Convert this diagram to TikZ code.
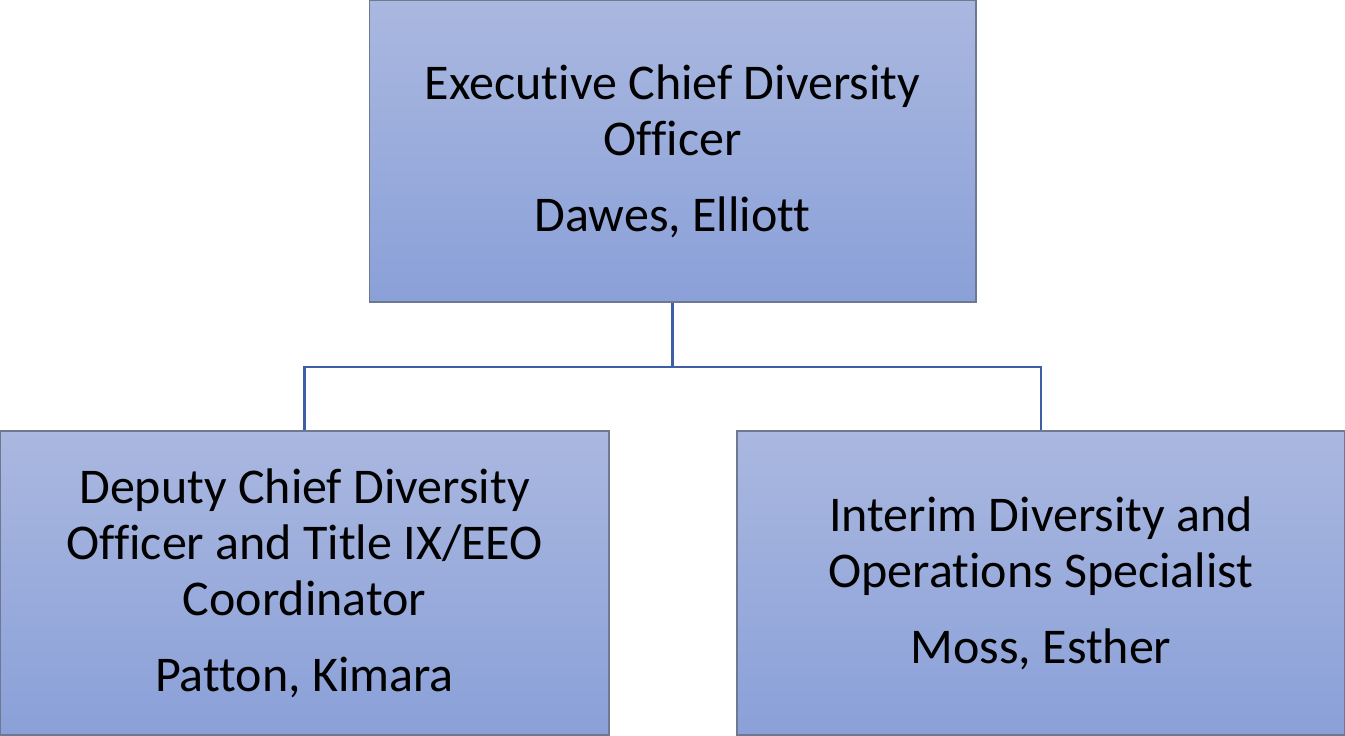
\documentclass[tikz,border=0pt]{standalone}
\usepackage{fontspec}
\setmainfont{Carlito}[Ligatures={NoCommon,NoRequired,NoContextual}]
\definecolor{ctop}{HTML}{AAB8E0}
\definecolor{cbot}{HTML}{8AA0D8}
\definecolor{boxgray}{HTML}{6E7890}
\definecolor{linkblue}{HTML}{3D5FA6}
\begin{document}
\begin{tikzpicture}[x=0.75pt,y=-0.75pt,
  box/.style={draw=boxgray, line width=1pt, top color=ctop, bottom color=cbot,
    minimum width=#1, minimum height=228pt, align=center, inner sep=0pt,
    font=\fontsize{37.5}{42}\selectfont},
  link/.style={draw=linkblue, line width=1.6pt}]
\useasboundingbox (0,0) rectangle (1345,735);
\node[box=455pt, minimum height=226.5pt] (top) at (672.5,151) {Executive Chief Diversity\\Officer\\[15pt]Dawes, Elliott};
\node[box=456.75pt] (left) at (304.5,583) {Deputy Chief Diversity\\Officer and Title IX/EEO\\Coordinator\\[15pt]Patton, Kimara};
\node[box=456pt] (right) at (1041,583) {Interim Diversity and\\Operations Specialist\\[15pt]Moss, Esther};
\coordinate (j) at (672.5,367);
\draw[link] (top.south) -- (j) -| (left.north);
\draw[link] (j) -| (right.north);
\end{tikzpicture}
\end{document}
